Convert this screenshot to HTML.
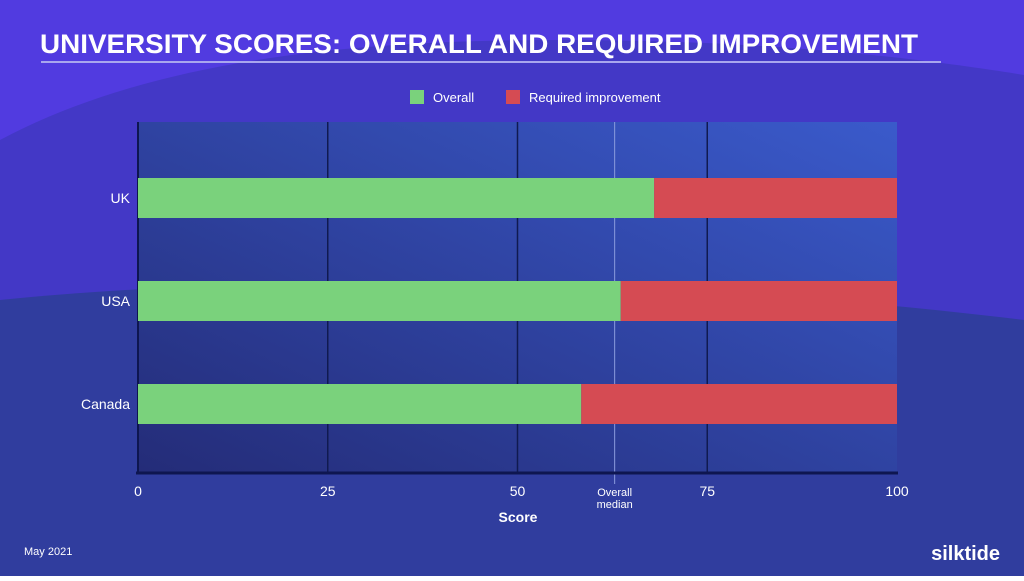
<!DOCTYPE html>
<html><head><meta charset="utf-8"><style>
html,body{margin:0;padding:0;}
body{width:1024px;height:576px;overflow:hidden;font-family:"Liberation Sans",sans-serif;}
</style></head><body>
<svg width="1024" height="576" viewBox="0 0 1024 576" xmlns="http://www.w3.org/2000/svg">
<defs>
<linearGradient id="pg" x1="0" y1="1" x2="1" y2="0">
<stop offset="0" stop-color="#242C78"/><stop offset="1" stop-color="#3A5ACB"/>
</linearGradient>
</defs>
<rect width="1024" height="576" fill="#513BE0"/>
<path d="M0,140 C150,60 350,40 560,40 C780,40 930,60 1024,75 L1024,576 L0,576 Z" fill="#4338C6"/>
<path d="M0,300 C300,270 700,280 1024,320 L1024,576 L0,576 Z" fill="#303D9E"/>
<text x="40" y="53" fill="#fff" font-size="27" font-weight="bold" textLength="878" lengthAdjust="spacingAndGlyphs">UNIVERSITY SCORES: OVERALL AND REQUIRED IMPROVEMENT</text>
<rect x="41" y="61" width="900" height="2" fill="#A9A6EE"/>
<g>
<rect x="410" y="90" width="14" height="14" fill="#7AD27C"/>
<text x="433" y="102" fill="#fff" font-size="13">Overall</text>
<rect x="506" y="90" width="14" height="14" fill="#D54B53"/>
<text x="529" y="102" fill="#fff" font-size="13">Required improvement</text>
</g>
<rect x="138" y="122" width="759" height="351" fill="url(#pg)"/>
<g id="grid"></g><g id="bars"></g><g id="labels"></g>
<text x="24" y="555" fill="#fff" font-size="11">May 2021</text>
<text x="1000" y="560" fill="#fff" font-size="20" font-weight="bold" text-anchor="end">silktide</text>
</svg>
<script>
const categories = ["UK","USA","Canada"];
const overall = [68.0,63.6,58.4];
const maxScore = [100,100,100];
const ticks = [0,25,50,75,100];
const median = 62.8;
const NS="http://www.w3.org/2000/svg";
const X0=138,X1=897,Y0=122,Y1=473;
const x=v=>X0+(X1-X0)*v/100;
const band=103;
const y=i=>(Y0+Y1)/2+3.5+(i-(categories.length-1)/2)*band;
function mk(t,a,p){const e=document.createElementNS(NS,t);for(const k in a)e.setAttribute(k,a[k]);p.appendChild(e);return e;}
const g=document.getElementById('grid'),b=document.getElementById('bars'),l=document.getElementById('labels');
ticks.forEach(t=>{
  if(t>0&&t<100){const ln=mk('line',{x1:x(t),x2:x(t),y1:Y0,y2:Y1,stroke:'#101A50','stroke-width':1.5},g);
  
  }
  const tx=mk('text',{x:x(t),y:496,fill:'#fff','font-size':14,'text-anchor':'middle'},l);
  tx.textContent=t;
  
  
});
const ml=mk('line',{x1:x(median),x2:x(median),y1:Y0,y2:484,stroke:'#8A9BDD','stroke-width':1},g);


[["Overall",496],["median",508]].forEach(([s,yy])=>{const t=mk('text',{x:x(median),y:yy,fill:'#fff','font-size':11,'text-anchor':'middle'},l);t.textContent=s;

});
categories.forEach((c,i)=>{
  const cy=y(i);
  const r1=mk('rect',{x:x(0),y:cy-20,width:x(overall[i])-x(0),height:40,fill:'#7AD27C'},b);
  
  
  const r2=mk('rect',{x:x(overall[i]),y:cy-20,width:x(maxScore[i])-x(overall[i]),height:40,fill:'#D54B53'},b);
  
  
  const t=mk('text',{x:130,y:cy+5,fill:'#fff','font-size':14,'text-anchor':'end'},l);t.textContent=c;
  
  
});
const ax=mk('line',{x1:136,x2:898,y1:Y1,y2:Y1,stroke:'#0E1650','stroke-width':3},g);


const ay=mk('line',{x1:X0,x2:X0,y1:Y0,y2:Y1,stroke:'#0E1650','stroke-width':2},g);


const st=mk('text',{x:518,y:522,fill:'#fff','font-size':14,'text-anchor':'middle','font-weight':'bold'},l);st.textContent='Score';


</script>
</body></html>
